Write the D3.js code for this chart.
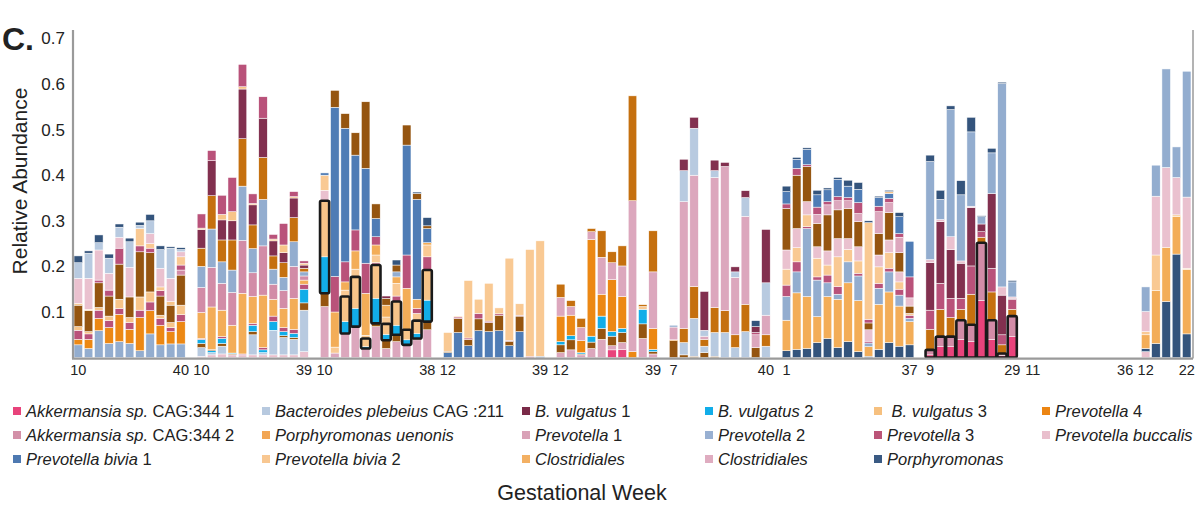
<!DOCTYPE html>
<html>
<head>
<meta charset="utf-8">
<script src="https://cdn.jsdelivr.net/npm/d3@7"></script>
<style>
  body { margin: 0; background: #fff; }
  text { font-family: "Liberation Sans", Arial, sans-serif; fill: #222; }
</style>
</head>
<body>
<script>
/* stacked relative abundance per sample, grouped by participant */

// series codes, legend names and colours
var seriesKeys = ["A1","BP","V1","V2","V3","P4","A2","PU","P1","P2","P3","PB","B1","B2","CL","C2","PO"];
var seriesNames = {
  A1: [["Akkermansia sp.", 1], [" CAG:344 1", 0]],
  BP: [["Bacteroides plebeius", 1], [" CAG :211", 0]],
  V1: [["B. vulgatus", 1], [" 1", 0]],
  V2: [["B. vulgatus", 1], [" 2", 0]],
  V3: [[" B. vulgatus", 1], [" 3", 0]],
  P4: [["Prevotella", 1], [" 4", 0]],
  A2: [["Akkermansia sp.", 1], [" CAG:344 2", 0]],
  PU: [["Porphyromonas uenonis", 1]],
  P1: [["Prevotella", 1], [" 1", 0]],
  P2: [["Prevotella", 1], [" 2", 0]],
  P3: [["Prevotella", 1], [" 3", 0]],
  PB: [["Prevotella buccalis", 1]],
  B1: [["Prevotella bivia", 1], [" 1", 0]],
  B2: [["Prevotella bivia", 1], [" 2", 0]],
  CL: [["Clostridiales", 1]],
  C2: [["Clostridiales", 1]],
  PO: [["Porphyromonas", 1]]
};
var barColors = {
  A1: "#e8437b", BP: "#b8cae0", V1: "#82304f", V2: "#12ade8", V3: "#f7c489", P4: "#ec8814",
  A2: "#d28ca7", PU: "#955510", P1: "#dca7bd", P2: "#93adcf", P3: "#b9527a", PB: "#eac1cf",
  B1: "#4f7cb5", B2: "#f9c993", CL: "#f3ad58", C2: "#c5700f", PO: "#34547c"
};
var swatchColors = {
  A1: "#e8437b", BP: "#b7c9df", V1: "#7a2a48", V2: "#11ade9", V3: "#f6c07f", P4: "#ec8512",
  A2: "#d390a8", PU: "#f2a654", P1: "#d9a2b7", P2: "#98b0d2", P3: "#bb5478", PB: "#e9bfcd",
  B1: "#4e79b1", B2: "#f8c791", CL: "#f3b063", C2: "#dfacc0", PO: "#3a5a83"
};
// legend grid, column by column
var legendCols = [["A1","A2","B1"], ["BP","PU","B2"], ["V1","P1","CL"], ["V2","P2","C2"], ["V3","P3","PO"], ["P4","PB"]];

var yTicks = [0.1, 0.2, 0.3, 0.4, 0.5, 0.6, 0.7];
var weekLabels = [["10","40"],["10","39"],["10","38"],["12","39"],["12","39"],["7","40"],["1","37"],["9","29"],["11","36"],["12","22"]];

// each bar: [series, abundance] from bottom to top
var p1 = [
  [["P2",.028],["P4",.012],["P3",.02],["V3",.008],["PU",.047],["V3",.004],["PB",.055],["BP",.034],["PO",.015]],
  [["P2",.02],["P4",.02],["P3",.012],["V3",.005],["PU",.046],["V3",.003],["PB",.068],["BP",.055],["PO",.005]],
  [["P2",.059],["P4",.027],["P3",.018],["V3",.006],["PU",.054],["P3",.006],["PB",.066],["BP",.016],["PO",.017]],
  [["P2",.031],["P4",.035],["P3",.015],["V3",.01],["PU",.044],["P3",.013],["PB",.037],["BP",.033],["PO",.009]],
  [["P2",.035],["P4",.06],["P3",.013],["V3",.02],["PU",.077],["P3",.035],["PB",.024],["BP",.022],["PO",.007]],
  [["P2",.031],["P4",.031],["P3",.015],["V3",.011],["PU",.045],["PB",.065],["BP",.056],["PO",.008]],
  [["P2",.015],["P4",.073],["P3",.016],["V3",.029],["PU",.099],["P3",.013],["B2",.038],["BP",.007],["PO",.007]],
  [["P2",.052],["P4",.051],["P3",.019],["V3",.022],["PU",.086],["P3",.01],["B2",.01],["PB",.022],["BP",.028],["PO",.014]],
  [["P2",.028],["P4",.043],["P3",.015],["V3",.007],["PU",.042],["P3",.012],["B2",.008],["PB",.041],["BP",.041],["PO",.008]],
  [["P2",.03],["P4",.027],["P3",.009],["V3",.011],["PU",.038],["V3",.008],["PB",.051],["BP",.066],["PO",.003]],
  [["P2",.03],["P4",.049],["P3",.015],["V3",.021],["PU",.066],["A2",.011],["P3",.011],["B2",.018],["PB",.011],["BP",.005],["PO",.004]]
];
var p2 = [
  [["PB",.003],["BP",.019],["PU",.009],["V2",.009],["P3",.002],["CL",.057],["A2",.055],["P2",.046],["C2",.04],["V1",.041],["V3",.003],["P3",.031]],
  [["PB",.006],["BP",.005],["V2",.004],["PU",.003],["CL",.093],["A2",.087],["P2",.084],["C2",.073],["V1",.077],["P3",.022]],
  [["PB",.008],["BP",.017],["PU",.006],["V2",.011],["P3",.004],["CL",.058],["A2",.059],["P2",.047],["C2",.048],["V1",.044],["V3",.012],["P3",.042]],
  [["PB",.006],["PU",.002],["V2",.002],["CL",.061],["A2",.072],["P2",.049],["C2",.066],["V1",.042],["V3",.02],["P3",.075]],
  [["PB",.006],["P3",.002],["CL",.133],["A2",.116],["P2",.119],["C2",.104],["V1",.109],["V3",.005],["P3",.049]],
  [["PB",.006],["BP",.044],["PU",.007],["V2",.014],["P3",.004],["CL",.059],["A2",.052],["P2",.053],["C2",.052],["V1",.044],["V3",.003],["P3",.021]],
  [["PB",.006],["BP",.005],["V2",.006],["P3",.005],["CL",.115],["A2",.108],["P2",.102],["C2",.092],["V1",.086],["P3",.047]],
  [["PB",.006],["BP",.054],["V2",.019],["P3",.012],["CL",.037],["A2",.033],["P2",.033],["C2",.029],["V1",.033],["V3",.004],["P3",.01]],
  [["PB",.006],["BP",.038],["PU",.004],["V2",.009],["P3",.009],["CL",.042],["A2",.039],["P2",.029],["C2",.032],["V1",.022],["V3",.017],["P3",.047]],
  [["PB",.006],["BP",.034],["PU",.004],["V2",.009],["P3",.009],["CL",.068],["A2",.07],["P2",.054],["C2",.053],["V1",.043],["V3",.003],["P3",.011]],
  [["PB",.013],["BP",.091],["PU",.016],["V2",.03],["P3",.011],["CL",.009],["A2",.009],["P2",.009],["C2",.008],["V1",.007],["V3",.004],["P3",.005]]
];
var p3 = [
  [["P1",.112],["PU",.029],["V2",.08],["V3",.123],["PB",.023],["B2",.033],["B1",.005]],
  [["P1",.01],["B2",.013],["CL",.077],["P3",.078],["B1",.371],["PU",.037]],
  [["P1",.053],["V2",.026],["V3",.055],["B2",.014],["CL",.018],["P3",.044],["B1",.293],["PU",.032]],
  [["P1",.068],["V2",.04],["V3",.069],["B2",.017],["CL",.04],["P3",.046],["B1",.164],["PU",.049]],
  [["P1",.02],["V2",.004],["V3",.018],["B2",.007],["CL",.092],["P3",.066],["B1",.208],["PU",.146]],
  [["P1",.068],["PU",.007],["V2",.055],["V3",.073],["A2",.005],["B2",.017],["CL",.022],["P3",.018],["B1",.04],["PU",.032]],
  [["P1",.02],["PU",.018],["V2",.013],["V3",.023],["B2",.015],["CL",.026],["PU",.015],["V1",.005]],
  [["P1",.035],["PU",.015],["V2",.021],["V3",.052],["P3",.012],["B2",.028],["CL",.014],["P2",.011],["PU",.015],["PO",.011]],
  [["P1",.028],["V2",.011],["V3",.022],["CL",.091],["P3",.073],["B1",.241],["PU",.044]],
  [["P1",.039],["PU",.003],["V2",.011],["V3",.028],["B2",.016],["P3",.011],["CL",.02],["B1",.219],["PU",.013],["PO",.003]],
  [["P1",.061],["PU",.018],["V2",.047],["V3",.066],["P3",.029],["B2",.026],["CL",.005],["B1",.031],["PU",.006],["PO",.018]]
];
var p4 = [
  [["B1",.011],["PU",.003],["B2",.041]],
  [["B1",.055],["PU",.031],["P3",.003],["B2",.002]],
  [["B1",.026],["PU",.014],["P3",.003],["B2",.126]],
  [["B1",.059],["PU",.026],["P3",.012],["B2",.031]],
  [["B1",.057],["PU",.02],["P3",.003],["B2",.083]],
  [["B1",.059],["PU",.034],["P3",.003],["B2",.013]],
  [["B1",.026],["PU",.01],["P3",.002],["B2",.18]],
  [["B1",.057],["PU",.034],["P3",.002],["B2",.025]],
  [["P3",.003],["B2",.234]],
  [["B1",.003],["B2",.253]]
];
var p5 = [
  [["P1",.011],["PU",.017],["V2",.007],["P4",.056],["P1",.041],["C2",.029]],
  [["P1",.017],["PU",.022],["V2",.009],["P4",.045],["P1",.019],["C2",.013]],
  [["P1",.006],["PU",.002],["V2",.003],["P4",.026],["P1",.029],["C2",.02]],
  [["P1",.02],["PU",.014],["V2",.013],["P4",.212],["P1",.017],["C2",.007]],
  [["P1",.04],["PU",.024],["V2",.027],["P4",.048],["P1",.081],["C2",.058]],
  [["A1",.017],["P1",.009],["PU",.021],["V2",.01],["P4",.114],["P1",.037],["C2",.024]],
  [["A1",.018],["P1",.015],["PU",.022],["V2",.009],["P4",.07],["P1",.067],["C2",.044]],
  [["P4",.013],["P1",.331],["C2",.23]],
  [["P1",.042],["PU",.032],["V2",.032],["B2",.006],["C2",.004]],
  [["P1",.008],["PU",.005],["V2",.005],["P4",.046],["P1",.124],["C2",.09]]
];
var p6 = [
  [["PU",.037],["P4",.002],["P1",.028],["P2",.004]],
  [["PU",.006],["BP",.027],["C2",.031],["P1",.278],["BP",.068],["V1",.025]],
  [["PU",.003],["BP",.083],["C2",.07],["P1",.244],["BP",.103],["V1",.024]],
  [["PU",.011],["BP",.014],["C2",.015],["P1",.007],["BP",.013],["V1",.085]],
  [["PU",.003],["BP",.052],["C2",.055],["P1",.285],["BP",.015],["V1",.023]],
  [["BP",.055],["C2",.048],["P1",.316],["V1",.009]],
  [["BP",.022],["C2",.028],["P1",.126],["BP",.012],["V1",.011]],
  [["BP",.057],["C2",.06],["P1",.193],["BP",.041],["V1",.015]],
  [["PU",.022],["P1",.028],["P3",.005],["V1",.013],["PO",.013]],
  [["BP",.025],["C2",.025],["P1",.043],["BP",.071],["V1",.117]]
];
var p7 = [
  [["PO",.015],["CL",.067],["P2",.052],["P3",.025],["B2",.035],["PB",.042],["PU",.091],["P3",.01],["B1",.027],["PO",.012]],
  [["PO",.018],["CL",.124],["P2",.046],["P3",.022],["B2",.031],["PB",.042],["PU",.117],["P3",.015],["B1",.02],["PO",.004]],
  [["PO",.02],["CL",.114],["P2",.149],["P3",.004],["B2",.026],["PB",.029],["PU",.077],["P3",.004],["B1",.034],["PO",.003]],
  [["PO",.033],["CL",.057],["P2",.08],["P3",.007],["B2",.041],["PB",.025],["PU",.051],["P1",.02],["P3",.016],["B1",.027],["PO",.01]],
  [["PO",.042],["CL",.092],["P2",.03],["P3",.017],["B2",.022],["PB",.031],["PU",.079],["P1",.022],["P3",.007],["B1",.026],["PO",.004]],
  [["PO",.022],["CL",.106],["P2",.011],["P3",.017],["B2",.065],["PB",.04],["PU",.063],["P1",.02],["P3",.009],["B1",.038],["PO",.004]],
  [["PO",.035],["CL",.129],["P2",.046],["B2",.027],["PB",.024],["PU",.066],["P1",.017],["P3",.007],["B1",.025],["PO",.013]],
  [["PO",.013],["CL",.112],["P2",.054],["P3",.006],["B2",.027],["PB",.031],["PU",.055],["P1",.018],["P3",.024],["B1",.029],["PO",.015]],
  [["PO",.003],["CL",.021],["P2",.008],["P3",.004],["PB",.025],["PU",.015],["P3",.008],["B2",.212],["PO",.004]],
  [["PO",.018],["CL",.099],["P2",.035],["P3",.011],["B2",.036],["PB",.026],["PU",.047],["P1",.048],["P3",.012],["B1",.019],["PO",.003]],
  [["PO",.033],["CL",.111],["P2",.044],["P3",.008],["B2",.034],["PB",.028],["PU",.06],["P1",.022],["P3",.009],["B1",.011],["V3",.004],["PO",.003]],
  [["PO",.025],["CL",.088],["P2",.024],["P3",.013],["B2",.016],["PB",.022],["PU",.042],["P1",.034],["P3",.008],["B1",.037],["PO",.009]],
  [["PO",.028],["CL",.051],["P2",.007],["P3",.007],["B2",.004],["PU",.016],["PB",.018],["P3",.046],["B1",.078]]
];
var p8 = [
  [["A1",.006],["A2",.011],["C2",.045],["P3",.042],["V1",.104],["PB",.007],["P2",.215],["PO",.014]],
  [["A1",.024],["A2",.022],["C2",.06],["P3",.057],["V1",.135],["PB",.005],["P2",.044],["PO",.02]],
  [["A1",.024],["A2",.022],["C2",.042],["P3",.042],["V1",.107],["PB",.028],["P2",.279],["PO",.008]],
  [["A1",.04],["A2",.042],["C2",.024],["P3",.024],["V1",.077],["PB",.005],["P2",.145],["PO",.031]],
  [["A1",.035],["A2",.037],["C2",.067],["P3",.062],["V1",.128],["PB",.003],["P2",.163],["PO",.032]],
  [["A1",.125],["A2",.127],["C2",.012],["P3",.012],["V1",.017],["P2",.016],["PO",.002]],
  [["A1",.04],["A2",.042],["C2",.062],["P3",.052],["V1",.164],["P2",.089],["PO",.01]],
  [["A1",.004],["A2",.005],["C2",.019],["P3",.022],["V1",.087],["PB",.018],["P2",.446],["PO",.003]],
  [["A1",.046],["A2",.045],["C2",.015],["P3",.022],["V1",.002],["PB",.003],["P2",.033],["PO",.003]]
];
var p9 = [null, null, null, null, null, null, null, null, null, null];
var p10 = [
  [["PB",.013],["PO",.007],["CL",.03],["B2",.007],["PB",.044],["P2",.054]],
  [["PO",.031],["CL",.116],["B2",.078],["PB",.129],["P2",.068]],
  [["PO",.123],["CL",.119],["PB",.175],["P2",.216]],
  [["PO",.227],["CL",.083],["B2",.003],["PB",.082],["P2",.067]],
  [["PO",.052],["CL",.141],["B2",.003],["PB",.156],["P2",.276]]
];
var participants = [p1, p2, p3, p4, p5, p6, p7, p8, p9, p10];
// series outlined in black for a participant (index -> series)
var outlined = { 2: ["V2","V3"], 7: ["A1","A2"] };

var W = 1198, H = 505;
var svg = d3.select("body").append("svg")
  .attr("width", W)
  .attr("height", H);

// lay samples out on one slot axis, one empty slot between participants
var slots = [];
var groupEnds = [];
participants.forEach(function(p, gi) {
  var first = slots.length;
  p.forEach(function(bar) { slots.push({ g: gi, bar: bar }); });
  groupEnds.push([first, slots.length - 1]);
  if (gi < participants.length - 1) slots.push({ g: gi, bar: null });
});

var x = d3.scaleBand()
  .domain(d3.range(slots.length))
  .range([73, 1192])
  .paddingInner(0.17)
  .paddingOuter(0.1);

var y = d3.scaleLinear()
  .domain([0, 0.7])
  .range([357.6, 38.4]);

// stacked segments
var segs = [];
var boxes = [];
slots.forEach(function(s, i) {
  if (!s.bar) return;
  var cum = 0;
  var hl = outlined[s.g];
  var b0 = null, b1 = null;
  s.bar.forEach(function(d) {
    segs.push({ i: i, key: d[0], y0: cum, y1: cum + d[1] });
    if (hl && hl.indexOf(d[0]) >= 0) {
      if (b0 === null) b0 = cum;
      b1 = cum + d[1];
    }
    cum += d[1];
  });
  if (b0 !== null) boxes.push({ i: i, y0: b0, y1: b1 });
});

svg.append("g").selectAll("rect")
  .data(segs)
  .enter()
  .append("rect")
  .attr("x", function(d) { return x(d.i); })
  .attr("width", x.bandwidth())
  .attr("y", function(d) { return y(d.y1); })
  .attr("height", function(d) { return Math.max(0, y(d.y0) - y(d.y1)); })
  .attr("fill", function(d) { return barColors[d.key]; })
  .attr("stroke", "#fff")
  .attr("stroke-width", 0.5);

svg.append("g").selectAll("rect")
  .data(boxes)
  .enter()
  .append("rect")
  .attr("x", function(d) { return x(d.i) - 0.3; })
  .attr("width", x.bandwidth() + 0.6)
  .attr("y", function(d) { return y(d.y1); })
  .attr("height", function(d) { return y(d.y0) - y(d.y1); })
  .attr("rx", 1.5)
  .attr("fill", "none")
  .attr("stroke", "#1a1a1a")
  .attr("stroke-width", 2.6);

// axes frame
var frame = svg.append("g").attr("stroke", "#9a9a9a").attr("stroke-width", 2.2);
frame.append("line").attr("x1", 73).attr("x2", 73).attr("y1", 30).attr("y2", 358.6);
frame.append("line").attr("x1", 72).attr("x2", 1193).attr("y1", 358.6).attr("y2", 358.6);
frame.append("line").attr("x1", 1193).attr("x2", 1193).attr("y1", 30).attr("y2", 358.6)
  .attr("stroke-width", 1.5);

svg.append("g").selectAll("text")
  .data(yTicks)
  .enter()
  .append("text")
  .attr("x", 65)
  .attr("y", function(d) { return y(d) + 6; })
  .attr("text-anchor", "end")
  .attr("font-size", 17)
  .text(function(d) { return d3.format(".1f")(d); });

// first and last week of each participant
var tickData = [];
groupEnds.forEach(function(e, gi) {
  tickData.push({ i: e[0], t: weekLabels[gi][0] });
  tickData.push({ i: e[1], t: weekLabels[gi][1] });
});
svg.append("g").selectAll("text")
  .data(tickData)
  .enter()
  .append("text")
  .attr("x", function(d) { return x(d.i) + x.bandwidth() / 2; })
  .attr("y", 375)
  .attr("text-anchor", "middle")
  .attr("font-size", 14.5)
  .text(function(d) { return d.t; });

svg.append("text")
  .attr("x", 2).attr("y", 50)
  .attr("font-size", 32).attr("font-weight", "bold")
  .text("C.");

svg.append("text")
  .attr("transform", "translate(27,181) rotate(-90)")
  .attr("text-anchor", "middle")
  .attr("font-size", 21)
  .text("Relative Abundance");

svg.append("text")
  .attr("x", 582).attr("y", 500)
  .attr("text-anchor", "middle")
  .attr("font-size", 21.5)
  .text("Gestational Week");

// legend
var colX = [13, 262, 522, 705, 874, 1042];
var rowY = [411, 435, 459];
legendCols.forEach(function(col, ci) {
  col.forEach(function(key, ri) {
    var g = svg.append("g").attr("transform", "translate(" + colX[ci] + "," + rowY[ri] + ")");
    g.append("rect")
      .attr("x", 0).attr("y", -4)
      .attr("width", 8).attr("height", 8)
      .attr("fill", swatchColors[key]);
    var t = g.append("text")
      .attr("x", 13).attr("y", 6)
      .attr("font-size", 16.5);
    seriesNames[key].forEach(function(part) {
      t.append("tspan")
        .attr("font-style", part[1] ? "italic" : "normal")
        .attr("xml:space", "preserve")
        .text(part[0]);
    });
  });
});
</script>
</body>
</html>
